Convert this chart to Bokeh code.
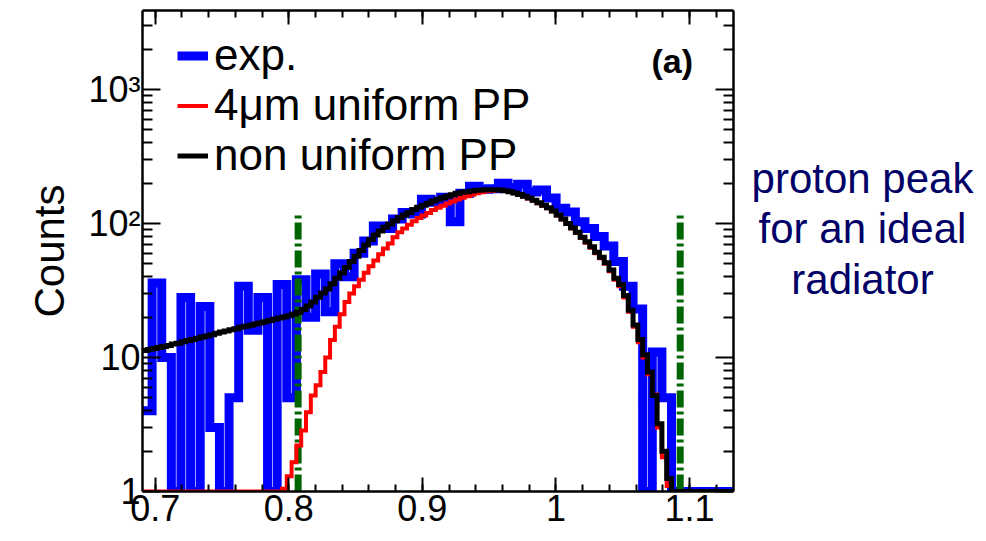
import numpy as np
from bokeh.plotting import figure
from bokeh.layouts import row
from bokeh.core.properties import value
from bokeh.models import (Range1d, FixedTicker, LinearAxis, LogAxis, Label,
                          Legend, LegendItem)
from bokeh.embed import file_html
from bokeh.resources import INLINE

# ---------------- data ----------------
x_start, x_end = 0.6905, 1.1329
y_start, y_end = 1.0, 3890.0

exp_bin_width = 0.0072
exp_counts = [4, 36, 10, 0, 28, 0, 24, 3, 0, 5,
              34, 16, 28, 0, 35, 5, 38, 20, 42, 22,
              50, 40, 60, 74, 96, 92, 108, 121, 118, 152,
              144, 157, 103, 168, 190, 180, 182, 200, 185, 196,
              172, 178, 155, 130, 122, 103, 92, 80, 68, 52,
              34, 23, 0, 11, 5, 0, 0, 0, 0, 0,
              0, 0]

sim_bin_width = 0.0036
nonuniform_pp = [11.3, 11.5, 11.7, 11.9, 12.1, 12.3, 12.6, 12.8, 13.1, 13.4,
                 13.6, 13.9, 14.2, 14.5, 14.8, 15.2, 15.5, 15.8, 16.1, 16.4,
                 16.8, 17.1, 17.4, 17.8, 18.1, 18.5, 18.9, 19.3, 19.7, 20.1,
                 20.5, 21.1, 21.8, 22.8, 24.2, 26.0, 28.2, 30.3, 32.5, 35.5,
                 39, 43, 47, 52, 57, 63, 69, 76, 82, 88,
                 94, 99, 105, 111, 116, 121, 127, 132, 137, 142,
                 147, 152, 156, 160, 164, 168, 171, 173, 175, 177,
                 178, 179, 179, 179, 178, 176, 173, 169, 165, 160,
                 155, 149, 143, 137, 131, 124, 116, 108, 100, 93,
                 86, 79, 73, 67, 61, 56, 51, 45, 39, 35,
                 29, 22.5, 17.5, 13.6, 10.5, 7.8, 5.2, 3.2, 2.0, 1.25,
                 0, 0, 0, 0, 0, 0, 0, 0, 0, 0,
                 0, 0, 0]
uniform_pp = [0, 0, 0, 0, 0, 0, 0, 0, 0, 0,
              0, 0, 0, 0, 0, 0, 0, 0, 0, 0,
              0, 0, 0, 0, 0, 0, 0, 0, 0, 1.05,
              1.3, 1.65, 2.2, 2.85, 3.9, 5.2, 6.2, 7.8, 10, 13.5,
              17, 21, 26, 30, 34, 38, 43, 48, 53, 59,
              65, 71, 79, 86, 92, 98, 104, 110, 115, 120,
              126, 131, 136, 141, 146, 151, 156, 160, 164, 168,
              171, 174, 176, 177, 177, 175, 172, 168, 164, 159,
              154, 148, 142, 136, 130, 123, 115, 107, 99, 92,
              85, 78, 72, 66, 60, 55, 50, 44, 38, 34,
              28, 22, 17, 13, 10, 7.5, 5.3, 3.0, 1.8, 1.1,
              0, 0, 0, 0, 0, 0, 0, 0, 0, 0,
              0, 0, 0]

ideal_peak_limits = [0.807, 1.093]
ideal_peak_top = 120

x_ticks = [0.7, 0.8, 0.9, 1.0, 1.1]
x_tick_labels = ["0.7", "0.8", "0.9", "1", "1.1"]
x_minor_ticks = [0.70, 0.72, 0.74, 0.76, 0.78, 0.80, 0.82, 0.84, 0.86, 0.88,
                 0.90, 0.92, 0.94, 0.96, 0.98, 1.00, 1.02, 1.04, 1.06, 1.08,
                 1.10, 1.12]
y_ticks = [1, 10, 100, 1000]
y_tick_labels = ["1", "10", "10²", "10³"]
y_minor_ticks = [2, 3, 4, 5, 6, 7, 8, 9, 20, 30, 40, 50, 60, 70, 80, 90,
                 200, 300, 400, 500, 600, 700, 800, 900, 2000, 3000]

legend_labels = ["exp.", "4μm uniform PP", "non uniform PP"]
side_note = ["proton peak", "for an ideal", "radiator"]
panel_tag = "(a)"
panel_tag_x, panel_tag_y = 1.0715, 1647

FONT = "Liberation Sans"


def step_xy(start, width, values):
    vals = np.maximum(np.asarray(values, dtype=float), y_start)
    edges = start + width * np.arange(len(vals) + 1)
    return edges, np.append(vals, vals[-1])


# ---------------- main figure ----------------
p = figure(width=745, height=541, output_backend="svg", toolbar_location=None,
           title=None,
           x_range=Range1d(x_start, x_end), y_range=Range1d(y_start, y_end),
           y_axis_type="log",
           min_border_left=142, min_border_right=12,
           min_border_top=10, min_border_bottom=50)
p.grid.visible = False
p.outline_line_color = None
p.background_fill_color = "white"
p.border_fill_color = "white"

ex, ey = step_xy(x_start, exp_bin_width, exp_counts)
r_exp = p.step(ex, ey, mode="after", line_color="#0000ff", line_width=9,
               line_join="miter")

for xv in ideal_peak_limits:
    p.segment(x0=[xv], y0=[y_start], x1=[xv], y1=[ideal_peak_top],
              line_color="#006400", line_width=7, line_dash="17 4 3 4")

ux, uy = step_xy(x_start, sim_bin_width, uniform_pp)
r_uni = p.step(ux, uy, mode="after", line_color="#ff0000", line_width=4,
               line_join="miter")
nx, ny = step_xy(x_start, sim_bin_width, nonuniform_pp)
r_non = p.step(nx, ny, mode="after", line_color="black", line_width=5,
               line_join="miter")


def style_axis(ax, tick_major, tick_minor):
    ax.axis_line_width = 2.5
    ax.axis_line_color = "black"
    ax.major_tick_line_width = 2
    ax.minor_tick_line_width = 2
    ax.major_tick_line_color = "black"
    ax.minor_tick_line_color = "black"
    ax.major_tick_in = tick_major
    ax.major_tick_out = 0
    ax.minor_tick_in = tick_minor
    ax.minor_tick_out = 0
    ax.major_label_text_font = FONT
    ax.major_label_text_color = "black"


xa = p.xaxis[0]
xa.ticker = FixedTicker(ticks=x_ticks, minor_ticks=x_minor_ticks)
xa.major_label_overrides = dict(zip(x_ticks, x_tick_labels))
style_axis(xa, 14, 7)
xa.major_label_text_font_size = "36px"
xa.major_label_standoff = 3

ya = p.yaxis[0]
ya.ticker = FixedTicker(ticks=y_ticks, minor_ticks=y_minor_ticks)
ya.major_label_overrides = dict(zip(y_ticks, y_tick_labels))
style_axis(ya, 18, 10)
ya.major_label_text_font_size = "36px"
ya.major_label_standoff = 2
ya.axis_label = "Counts"
ya.axis_label_text_font = FONT
ya.axis_label_text_font_size = "42px"
ya.axis_label_text_font_style = "normal"
ya.axis_label_text_color = "black"
ya.axis_label_standoff = 12

# mirrored tick axes (ticks only, labels not drawn)
top_axis = LinearAxis(ticker=FixedTicker(ticks=x_ticks, minor_ticks=x_minor_ticks))
style_axis(top_axis, 14, 7)
top_axis.major_label_text_font_size = "6px"
top_axis.major_label_text_color = None
top_axis.major_label_standoff = 0
p.add_layout(top_axis, "above")

right_axis = LogAxis(ticker=FixedTicker(ticks=y_ticks, minor_ticks=y_minor_ticks))
style_axis(right_axis, 18, 10)
right_axis.major_label_text_font_size = "6px"
right_axis.major_label_text_color = None
right_axis.major_label_standoff = 0
p.add_layout(right_axis, "right")

# legend
legend = Legend(items=[LegendItem(label=legend_labels[0], renderers=[r_exp]),
                       LegendItem(label=legend_labels[1], renderers=[r_uni]),
                       LegendItem(label=legend_labels[2], renderers=[r_non])],
                location=(35, 311), orientation="vertical",
                label_text_font=FONT, label_text_font_size="44px",
                label_text_color="black",
                glyph_width=31, glyph_height=49, label_height=49,
                spacing=0, padding=0, margin=0, label_standoff=6,
                border_line_alpha=0, background_fill_alpha=0)
p.add_layout(legend)

p.add_layout(Label(x=panel_tag_x, y=panel_tag_y,
                   text=panel_tag, text_font=FONT, text_font_size="34px",
                   text_font_style="bold", text_align="left",
                   text_color="black", text_baseline="middle"))

# ---------------- side note panel ----------------
# (in a row, this panel's frame is aligned with the main frame: y 10..491 px)
q = figure(width=241, height=541, output_backend="svg", toolbar_location=None,
           title=None,
           x_range=Range1d(0, 241), y_range=Range1d(491, 10),
           x_axis_location=None, y_axis_location=None,
           min_border=0)
q.grid.visible = False
q.outline_line_color = None
q.background_fill_color = "white"
q.border_fill_color = "white"
q.text(x=[117, 117, 117], y=[178, 228, 279], text=side_note,
       text_font=value(FONT), text_font_size="42px", text_color="#000066",
       text_align="center", text_baseline="middle")

layout = row(p, q, spacing=0)
open("out.html", "w").write(file_html(layout, INLINE))
